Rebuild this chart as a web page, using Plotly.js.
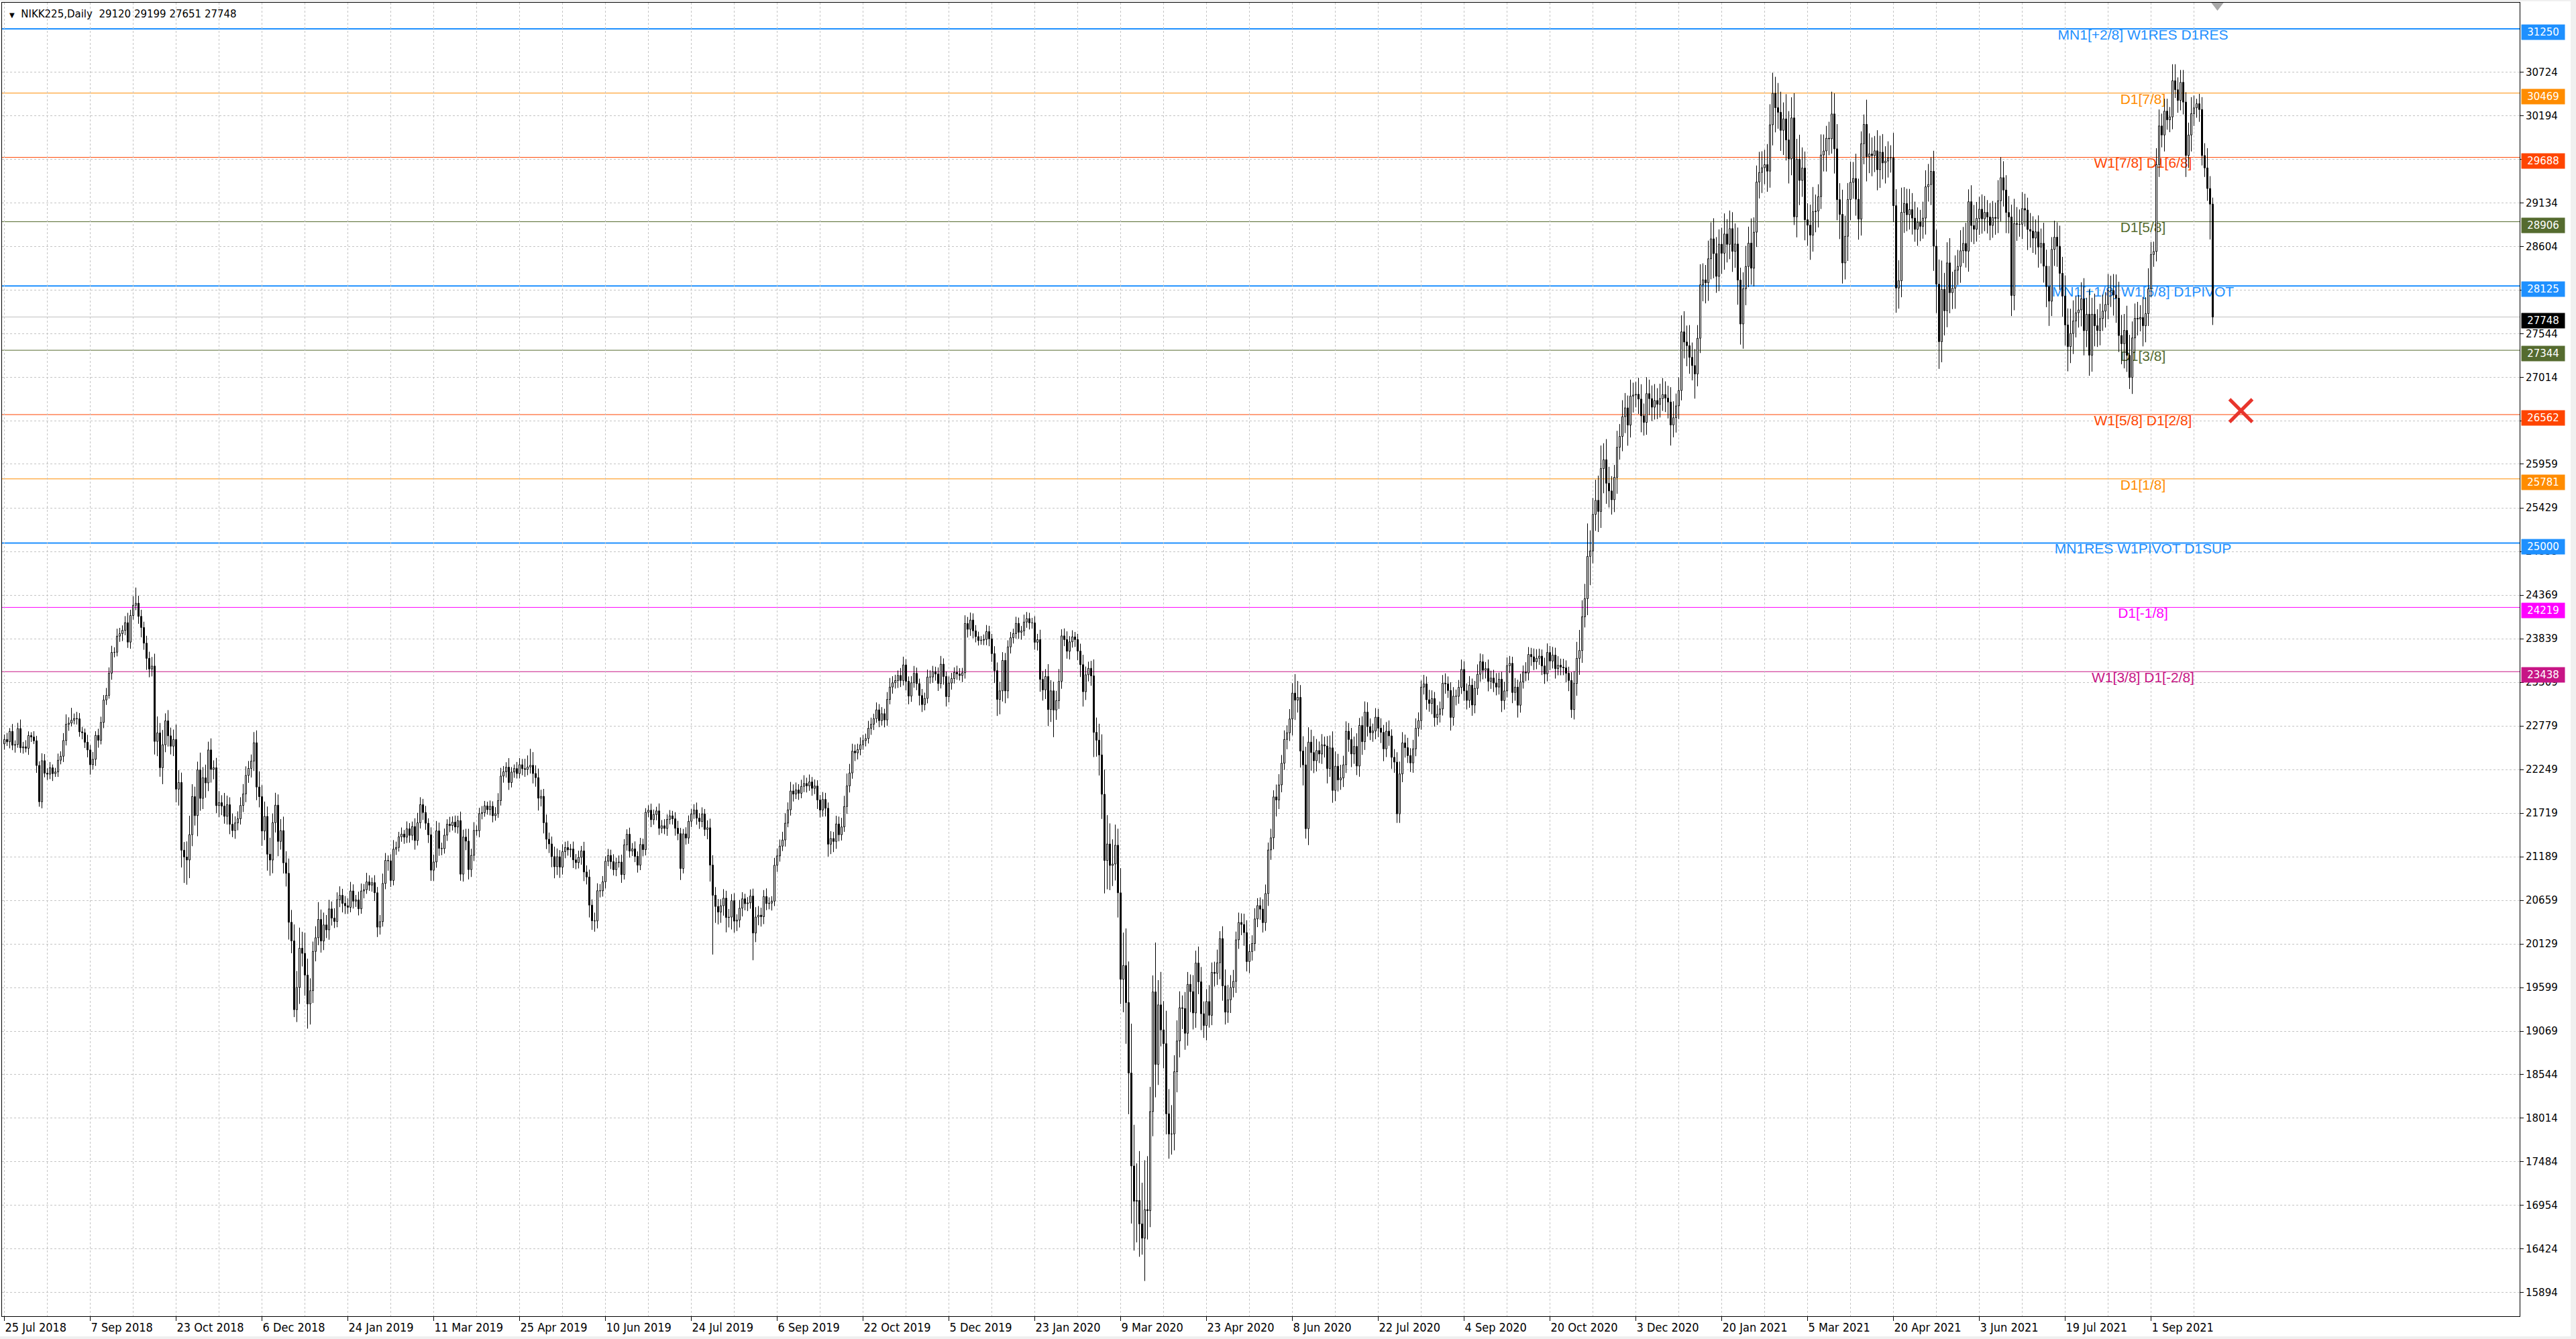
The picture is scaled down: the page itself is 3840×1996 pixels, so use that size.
<!DOCTYPE html>
<html><head><meta charset="utf-8">
<script src="https://cdn.plot.ly/plotly-3.0.1.min.js"></script>
<style>
html,body{margin:0;padding:0;background:#f0f0f0;width:3840px;height:1996px;overflow:hidden}
#chart{position:absolute;left:0;top:2px;width:3832px;height:1990px;background:#fff}
</style>
</head><body><div id="chart"></div>
<script>
// ---------------- DATA ----------------
const symbolName = 'NIKK225';
const periodName = 'Daily';
const lastBarOHLC = [29120, 29199, 27651, 27748];
const firstOpen = 22560;

// Daily closes, one row per 32-bar date-label interval
const closes = [
22614,22586,22712,22544,22553,22746,22512,22525, 22507,22662,22644,22598,22298,21857,22356,22204, 22192,22270,22199,22219,22362,22410,22601,22799, 22813,22848,22869,22865,22707,22696,22580,22487,
22307,22373,22664,22604,22821,23094,23150,23420, 23672,23674,23870,23900,23940,24033,23797,24120, 24245,24270,24110,23975,23784,23600,23470,23506, 22591,22694,22271,22549,22841,22658,22532,22614,
22010,22091,21268,21185,21149,21457,21920,21688, 22244,21898,22148,22086,22487,22250,22270,21810, 21846,21804,21680,21821,21583,21507,21600,21650, 21812,21952,22177,22262,22351,22574,22036,21919,
21501,21679,21220,21148,21603,21816,21375,21506, 21115,20987,20392,20166,19330,19600,20077,20015, 19750,19400,19561,20038,20204,20427,20164,20360, 20300,20555,20443,20402,20666,20719,20622,20593,
20574,20773,20649,20664,20556,20773,20788,20883, 20844,20874,20751,20333,20400,20864,21144,21139, 20901,21281,21302,21431,21464,21426,21528,21449, 21556,21385,21602,21822,21726,21596,21456,21025,
21125,21503,21290,21287,21451,21584,21567,21609, 21550,21627,20977,21428,21378,21033,21206,21509, 21505,21713,21725,21807,21761,21802,21687,21711, 21871,22169,22221,22277,22091,22218,22260,22200,
22307,22259,22250,22280,22300,22200,22150,21900, 21923,21602,21402,21344,21191,21067,21189,21062, 21250,21301,21272,21283,21151,21117,21182,21260, 21003,20942,20601,20410,20408,20776,20774,20884,
21134,21204,21129,21032,21117,21124,20972,21333, 21462,21258,21285,21193,21086,21338,21275,21729, 21754,21638,21702,21746,21534,21565,21533,21643, 21686,21650,21535,21469,21046,21467,21416,21620,
21709,21757,21658,21617,21709,21521,21541,21087, 20720,20585,20516,20593,20685,20450,20455,20655, 20406,20419,20563,20678,20618,20628,20711,20261, 20456,20479,20460,20704,20620,20625,20649,21085,
21199,21318,21392,21597,21759,21988,21950,22001, 21960,22044,22079,22050,22098,22020,22048,21879, 21756,21885,21778,21341,21410,21375,21587,21456, 21551,21799,22050,22207,22472,22451,22492,22549,
22600,22625,22750,22799,22867,22974,22843,22927, 22851,23100,23251,23303,23330,23392,23331,23520, 23320,23141,23303,23417,23293,23148,23038,23113, 23373,23373,23438,23409,23294,23529,23380,23135,
23300,23354,23430,23410,23391,23424,24023,23953, 24066,23934,23864,23816,23821,23830,23925,23837, 23657,23450,23100,23205,23575,23204,23739,23850, 23900,24025,23917,23933,24041,24083,24031,24031,
23795,23827,23344,23216,23379,22977,23205,22972, 23085,23320,23873,23828,23686,23800,23861,23828, 23688,23523,23194,23400,23479,23387,22700,22605, 22426,21948,21143,21344,21083,21100,21329,20750,
19699,19867,19416,18560,17431,17002,17012,16727, 16553,16900,16887,18092,19546,18665,19389,19084, 18917,18065,17819,17820,18576,18950,19353,19345, 19043,19638,19550,19290,19897,19669,19281,19137,
19429,19262,19783,19771,19900,20194,19619,19300, 19450,19600,19674,20179,20390,20366,20267,19915, 20037,20134,20433,20595,20552,20388,20741,21271, 21419,21916,21878,22062,22325,22614,22695,22863,
23178,23091,23125,22473,22305,21530,22582,22455, 22355,22479,22437,22549,22535,22260,22512,21995, 22289,22122,22146,22306,22714,22614,22438,22529, 22291,22785,22587,22946,22770,22696,22717,22885,
22751,22700,22500,22715,22657,22397,22339,21710, 22195,22573,22514,22418,22329,22500,22750,22843, 23250,23289,23097,23051,23111,22880,22920,22985, 23297,23290,23209,22882,23140,23138,23247,23465,
23205,23089,23274,23032,23235,23406,23559,23455, 23475,23319,23360,23300,23250,23346,23087,23204, 23511,23539,23185,23250,23030,23312,23433,23422, 23647,23619,23558,23601,23627,23507,23410,23671,
23567,23639,23474,23516,23494,23485,23418,23331, 22977,23295,23600,23695,24105,24325,24839,24905, 25349,25520,25385,25906,26014,25728,25634,25527, 25800,26165,26297,26537,26644,26434,26787,26800,
26809,26751,26547,26467,26817,26756,26652,26733, 26687,26757,26806,26763,26715,26436,26524,26668, 26855,27568,27444,27400,27258,27158,27056,27490, 28139,28200,28164,28456,28698,28519,28242,28633,
28523,28757,28631,28822,28546,28635,28197,27663, 28091,28362,28646,28341,28779,29389,29505,29562, 29600,29520,30084,30467,30292,30236,30017,30156, 29900,29671,30168,28966,29663,29408,29559,28930,
28864,28743,29028,29036,29211,29717,29766,29921, 29914,30216,29792,29174,28995,28405,28729,29176, 29385,29432,29179,28938,29854,30089,29696,29730, 29709,29768,29538,29751,29621,29643,29683,29685,
29101,28100,28188,29020,29126,28991,29054,28950, 28813,28900,28850,28950,29331,29358,29518,28609, 28147,27448,28084,27824,28406,28044,28098,28317, 28364,28553,28642,28549,29149,28860,28814,28946,
29058,28941,29019,28963,28861,28958,28948,29161, 29441,29291,29018,28964,28010,28884,28874,28875, 29066,29048,28812,28792,28707,28783,28598,28643, 28366,28118,27940,28569,28718,28608,28279,28003,
27652,27388,27548,27700,27800,27834,27970,27582, 27782,27284,27782,27642,27584,27729,27820,27900, 28070,28070,28015,27977,27523,27424,27585,27281, 27013,27494,27732,27724,27742,27641,27789,28090,
28508,28544,29600,30070,29960,30250,30144,30180, 30620,30510,30380,30600,30360,29710,29960,30220, 30290,30340,30270,29710,29560,29310,29120,27748
];

// Upper shadow length above the body (points)
const wickUp = [
60,80,40,90,50,70,110,60, 80,50,40,70,60,50,90,80, 60,70,40,50,80,60,90,120, 70,150,60,80,70,60,50,90,
60,90,50,80,70,60,90,70, 80,60,90,70,60,80,120,70, 110,190,90,80,70,90,80,110, 150,200,120,180,90,130,100,120,
180,150,120,100,190,230,150,120, 100,210,130,160,100,140,90,120, 140,90,160,110,90,130,80,90, 100,120,110,90,80,130,150,190,
140,180,120,200,110,150,130,140, 170,140,180,150,200,200,250,200, 250,200,150,120,140,210,120,150, 120,110,90,120,90,110,80,90,
90,110,80,60,100,90,70,110, 80,60,90,70,80,120,90,60, 80,110,70,60,80,50,90,70, 60,100,120,90,70,80,60,90,
90,120,100,70,80,60,90,70, 80,60,110,90,100,150,80,100, 60,70,80,60,50,70,60,80, 90,100,70,60,110,60,50,80,
80,70,120,140,200,160,100,110, 80,90,100,80,90,120,100,80, 90,70,80,60,90,70,80,60, 110,80,90,70,100,90,80,70,
60,80,70,90,60,80,90,70, 60,80,70,90,60,80,70,50, 60,80,60,50,90,70,80,60, 70,60,80,90,70,60,80,70,
60,70,90,60,80,60,90,110, 120,100,90,80,110,90,100,80, 90,70,100,80,60,70,80,90, 120,110,90,80,100,70,60,90,
90,80,100,120,90,110,80,90, 70,80,100,70,90,60,80,70, 60,90,80,70,90,80,100,90, 110,130,150,110,90,80,70,90,
70,60,90,80,60,90,70,80, 60,90,110,80,70,60,90,100, 70,60,80,90,70,60,80,70, 90,80,70,60,80,100,70,60,
80,70,60,80,70,60,100,80, 90,80,70,60,50,60,80,70, 60,90,100,110,100,90,80,70, 60,80,70,60,90,80,70,60,
80,70,120,100,90,150,130,110, 120,150,80,90,100,70,80,60, 70,90,120,100,80,90,200,180, 200,250,300,350,250,300,250,200,
300,400,450,500,600,500,450,600, 500,600,650,300,200,600,300,400, 350,400,300,350,200,250,200,150, 200,150,120,200,150,200,180,150,
150,200,120,130,160,90,150,200, 180,150,140,100,120,110,130,150, 90,100,130,90,100,120,110,90, 110,80,150,130,100,110,90,120,
120,230,200,150,180,220,180,150, 200,140,110,130,100,120,150,200, 180,150,160,110,120,100,140,120, 160,90,110,130,120,100,90,110,
100,120,90,110,130,80,100,120, 150,130,100,120,90,110,120,100, 80,110,90,120,100,80,110,90, 100,120,90,100,110,80,90,120,
100,90,110,80,90,120,100,90, 80,110,90,100,120,80,90,110, 100,90,80,110,90,100,80,120, 90,80,100,110,90,80,100,110,
80,100,90,110,80,100,90,80, 100,150,200,250,200,180,400,250, 200,250,300,280,200,250,200,180, 150,200,150,200,180,150,200,150,
150,200,180,150,200,170,160,200, 150,180,200,160,150,180,200,150, 160,200,250,200,250,180,200,160, 250,200,180,220,200,250,200,180,
200,250,180,220,200,250,200,150, 200,250,200,300,180,200,250,200, 180,250,250,250,200,300,250,200, 300,350,250,300,250,300,250,200,
200,250,300,200,150,250,200,150, 200,270,250,300,200,300,250,200, 250,200,300,250,150,120,300,250, 200,180,250,200,220,180,200,150,
300,200,250,300,200,180,250,200, 200,180,150,200,200,250,170,250, 200,300,350,200,250,300,200,180, 200,250,200,250,150,200,250,200,
150,180,200,150,170,200,180,250, 250,200,180,200,150,300,200,180, 200,180,150,200,180,150,200,180, 250,200,250,150,200,180,250,200,
250,200,300,250,200,180,200,250, 200,300,200,250,200,180,200,150, 200,180,200,250,200,250,200,300, 250,200,180,200,150,250,200,250,
150,120,200,200,150,150,150,120, 200,200,150,150,150,120,150,200, 150,60,120,150,150,240,150,79
];

// Lower shadow length below the body (points)
const wickDown = [
70,50,80,60,90,40,60,70, 50,80,60,40,90,60,80,50, 70,60,90,40,60,50,70,60, 80,40,50,70,60,80,70,90,
120,60,80,90,50,70,60,40, 80,60,50,70,90,60,70,80, 50,60,90,120,80,140,100,90, 160,180,110,200,90,130,100,120,
160,200,210,315,300,220,140,120, 250,150,130,180,100,160,120,90, 140,110,90,100,120,80,100,90, 70,80,100,90,110,120,160,130,
180,110,200,190,160,120,180,100, 130,160,210,150,90,150,200,160, 250,300,250,150,120,90,140,110, 100,120,90,80,70,90,110,100,
80,60,90,70,80,60,90,50, 70,80,100,120,90,60,70,120, 80,60,70,50,60,80,70,90, 60,110,60,70,90,80,100,130,
130,70,90,80,60,70,80,60, 70,80,80,90,110,120,90,70, 60,80,70,50,60,70,80,60, 50,60,80,70,90,60,70,60,
60,80,90,70,80,120,110,150, 100,130,120,110,130,140,100,130, 90,80,70,90,100,80,70,90, 110,90,150,110,130,90,80,70,
80,60,90,70,80,60,100,60, 70,80,60,70,90,60,80,70, 60,90,60,70,80,60,70,90, 60,70,90,80,140,60,80,70,
70,60,80,90,70,80,120,200, 720,200,150,130,120,180,120,150, 140,120,90,100,80,90,70,330, 110,100,120,90,80,70,90,60,
80,70,60,80,50,70,90,60, 80,60,70,80,60,90,70,110, 90,80,100,150,120,130,90,80, 70,60,90,80,70,100,80,70,
60,70,60,80,70,50,80,60, 90,70,60,80,70,90,80,60, 110,100,70,60,80,120,90,70, 60,80,70,80,90,60,100,120,
70,80,60,70,60,80,70,100, 80,90,70,60,50,60,70,90, 100,150,200,180,130,150,90,80, 70,60,80,90,60,70,80,70,
90,100,150,130,110,200,150,330, 120,100,90,80,90,100,70,90, 110,150,180,100,80,120,300,200, 250,300,400,350,300,250,200,300,
300,400,500,500,700,600,500,400, 200,520,350,200,300,400,250,200, 300,250,300,250,200,250,200,250, 200,150,250,200,180,150,200,150,
180,150,120,160,140,200,180,150, 130,160,120,140,110,130,160,120, 140,110,90,100,130,120,100,150, 120,140,200,110,90,80,120,100,
200,240,150,200,250,120,200,220, 150,130,110,120,140,180,100,150, 130,140,120,110,100,150,160,120, 110,130,160,100,120,90,110,100,
110,130,150,100,120,140,130,110, 110,100,120,90,110,120,90,100, 110,90,120,100,130,110,90,100, 80,120,90,160,100,110,90,80,
120,110,90,130,100,80,90,110, 100,120,90,110,100,90,140,110, 80,90,130,100,150,90,80,100, 90,110,100,90,80,110,120,90,
110,90,120,80,100,90,110,130, 100,120,150,200,150,130,200,350, 150,200,250,200,300,250,200,180, 150,200,150,180,200,250,150,200,
150,180,200,160,150,200,170,150, 180,160,150,170,200,250,150,180, 160,120,200,250,200,180,300,150, 180,200,250,220,250,300,200,180,
250,200,220,180,250,200,300,250, 300,200,250,200,220,180,200,250, 200,250,200,250,300,200,250,300, 250,300,200,100,250,300,200,250,
250,300,200,250,200,150,200,250, 200,180,300,250,300,250,200,300, 250,200,200,250,200,250,300,200, 250,200,250,220,200,250,200,180,
200,300,250,200,250,200,180,200, 150,200,180,150,200,180,250,300, 350,330,250,300,200,250,200,250, 180,200,150,200,250,200,180,150,
200,180,150,200,180,150,200,180, 250,200,250,200,250,180,200,150, 180,200,250,200,180,200,250,200, 200,250,300,180,200,250,200,250,
250,300,200,250,200,180,200,300, 200,250,200,250,200,180,150,200, 180,200,250,300,200,250,300,200, 140,200,180,200,150,250,200,150,
100,150,120,150,150,200,120,150, 150,100,150,120,150,260,150,200, 150,120,150,120,110,150,430,97
];

const dateLabels = ['25 Jul 2018','7 Sep 2018','23 Oct 2018','6 Dec 2018','24 Jan 2019','11 Mar 2019',
  '25 Apr 2019','10 Jun 2019','24 Jul 2019','6 Sep 2019','22 Oct 2019','5 Dec 2019','23 Jan 2020',
  '9 Mar 2020','23 Apr 2020','8 Jun 2020','22 Jul 2020','4 Sep 2020','20 Oct 2020','3 Dec 2020',
  '20 Jan 2021','5 Mar 2021','20 Apr 2021','3 Jun 2021','19 Jul 2021','1 Sep 2021'];

const priceTicks = [30724,30194,29664,29134,28604,28074,27544,27014,26486,25959,25429,24899,24369,23839,
  23309,22779,22249,21719,21189,20659,20129,19599,19069,18544,18014,17484,16954,16424,15894];

const levelPrices = [31250,30469,29688,28906,28125,27344,26562,25781,25000,24219,23438];
const levelNames = ['MN1[+2/8] W1RES D1RES','D1[7/8]','W1[7/8] D1[6/8]','D1[5/8]',
  'MN1[+1/8] W1[6/8] D1PIVOT','D1[3/8]','W1[5/8] D1[2/8]','D1[1/8]','MN1RES W1PIVOT D1SUP',
  'D1[-1/8]','W1[3/8] D1[-2/8]'];
const levelColors = ['#1E90FF','#FF8C00','#FF4500','#556B2F','#1E90FF','#556B2F','#FF4500',
  '#FF8C00','#1E90FF','#FF00FF','#C71585'];
const levelLabelBar = 797;

const crossBar = [833.5];
const crossPrice = [26610];
const shiftBar = [824.75];
const shiftPrice = [31535];

// ---------------- BUILD ----------------
const BARS_PER_LABEL = 32;
const n = Math.min(closes.length, wickUp.length, wickDown.length);
const opens = [], highs = [], lows = [];
for (let i = 0; i < n; i++) {
  const o = i === 0 ? firstOpen : closes[i - 1];
  opens.push(o);
  highs.push(Math.max(o, closes[i]) + wickUp[i]);
  lows.push(Math.min(o, closes[i]) - wickDown[i]);
}
const wx = [], wy = [];
const upX = [], upBase = [], upH = [], dnX = [], dnBase = [], dnH = [];
for (let i = 0; i < n; i++) {
  const o = opens[i], c = closes[i];
  const top = Math.max(o, c), bot = Math.min(o, c);
  wx.push(i, i, null, i, i, null);
  wy.push(highs[i], top, null, bot, lows[i], null);
  if (c >= o) { upX.push(i); upBase.push(o); upH.push(c - o); }
  else { dnX.push(i); dnBase.push(c); dnH.push(o - c); }
}
const lastClose = closes[n - 1];

const xRange = [-0.875, 937.375];
const yRange = [15605, 31568];
const gridCol = '#c4c4c4';
const tickFont = {family: 'DejaVu Sans, Verdana, sans-serif', size: 15, color: '#000'};

const traces = [
  {type: 'scatter', mode: 'text', x: levelPrices.map(() => levelLabelBar), y: levelPrices,
   text: levelNames, textposition: 'bottom center', cliponaxis: false,
   textfont: {family: 'Liberation Sans, Arial, sans-serif', size: 21, color: levelColors},
   xaxis: 'x', yaxis: 'y', hoverinfo: 'skip'},
  {type: 'bar', x: upX, y: upH, base: upBase, width: 0.5, xaxis: 'x2', yaxis: 'y2',
   marker: {color: '#ffffff', line: {color: '#000', width: 1}}, hoverinfo: 'skip'},
  {type: 'bar', x: dnX, y: dnH, base: dnBase, width: 0.5, xaxis: 'x2', yaxis: 'y2',
   marker: {color: '#000000', line: {color: '#000', width: 1}}, hoverinfo: 'skip'},
  {type: 'scatter', mode: 'lines', x: wx, y: wy, connectgaps: false, xaxis: 'x2', yaxis: 'y2',
   line: {color: '#000', width: 1}, hoverinfo: 'skip'},
  {type: 'scatter', mode: 'markers', x: shiftBar, y: shiftPrice, xaxis: 'x2', yaxis: 'y2', cliponaxis: false,
   marker: {symbol: 'triangle-down', size: 16, color: '#a8a8a8'}, hoverinfo: 'skip'},
  {type: 'scatter', mode: 'markers', x: crossBar, y: crossPrice, xaxis: 'x2', yaxis: 'y2', cliponaxis: false,
   marker: {symbol: 'x-thin', size: 34, color: '#e8352c', line: {color: '#e8352c', width: 5}}, hoverinfo: 'skip'}
];

const shapes = levelPrices.map((p, k) => ({
  type: 'line', xref: 'paper', x0: 0, x1: 1, yref: 'y', y0: p, y1: p, layer: 'below',
  line: {color: levelColors[k], width: levelColors[k] === '#1E90FF' ? 2 : 1}
}));
shapes.push({type: 'line', xref: 'paper', x0: 0, x1: 1, yref: 'y', y0: lastClose, y1: lastClose,
  layer: 'below', line: {color: '#c0c0c0', width: 1}});

const boxAnn = (price, color) => ({
  xref: 'paper', x: 1, xanchor: 'left', xshift: 2, yref: 'y', y: price, yanchor: 'middle', yshift: -5,
  text: String(price), showarrow: false, bgcolor: color, width: 60, height: 18, borderpad: 2,
  font: {family: 'DejaVu Sans, Verdana, sans-serif', size: 15, color: '#fff'}, align: 'center'
});
const annotations = levelPrices.map((p, k) => boxAnn(p, levelColors[k]));
annotations.push(boxAnn(lastClose, '#000000'));
annotations.push({xref: 'paper', yref: 'paper', x: 0, y: 1, xanchor: 'left', yanchor: 'top',
  xshift: 9, yshift: -6, showarrow: false, align: 'left',
  text: '<span style="font-size:10px">\u25BC</span>\u00a0\u00a0' + symbolName + ',' + periodName +
        '\u00a0\u00a0' + lastBarOHLC.join('\u00a0'),
  font: {family: 'DejaVu Sans, Verdana, sans-serif', size: 15, color: '#000'}});

const tickVals = dateLabels.map((_, k) => k * BARS_PER_LABEL);
const minorVals = dateLabels.map((_, k) => k * BARS_PER_LABEL + BARS_PER_LABEL / 2);

const layout = {
  width: 3832, height: 1990,
  margin: {l: 3, r: 76, t: 2, b: 30, pad: 0},
  paper_bgcolor: '#ffffff', plot_bgcolor: '#ffffff',
  showlegend: false, hovermode: false, barmode: 'overlay',
  xaxis: {range: xRange, autorange: false, tickmode: 'array', tickvals: tickVals, ticktext: dateLabels,
    ticklabelposition: 'outside right', ticks: 'outside', ticklen: 6, tickcolor: '#000', tickwidth: 1,
    tickfont: {family: 'Liberation Sans Narrow, DejaVu Sans Condensed, Arial Narrow, sans-serif', size: 18, color: '#000'},
    showgrid: true, gridcolor: gridCol, griddash: '3px,3px', gridwidth: 1,
    minor: {tickvals: minorVals, showgrid: true, gridcolor: gridCol, griddash: '3px,3px', ticks: ''},
    showline: true, linecolor: '#000', linewidth: 1, mirror: true, zeroline: false, fixedrange: true},
  yaxis: {range: yRange, autorange: false, side: 'right', tickmode: 'array', tickvals: priceTicks,
    ticktext: priceTicks.map(String), ticks: 'outside', ticklen: 5, tickcolor: '#000', tickwidth: 1,
    tickfont: tickFont, showgrid: true, gridcolor: gridCol, griddash: '3px,3px', gridwidth: 1,
    showline: true, linecolor: '#000', linewidth: 1, mirror: true, zeroline: false, fixedrange: true},
  xaxis2: {overlaying: 'x', range: xRange, autorange: false, visible: false, fixedrange: true},
  yaxis2: {overlaying: 'y', range: yRange, autorange: false, visible: false, fixedrange: true},
  shapes: shapes,
  annotations: annotations
};

Plotly.newPlot('chart', traces, layout, {staticPlot: true, displayModeBar: false});
</script>
</body></html>
